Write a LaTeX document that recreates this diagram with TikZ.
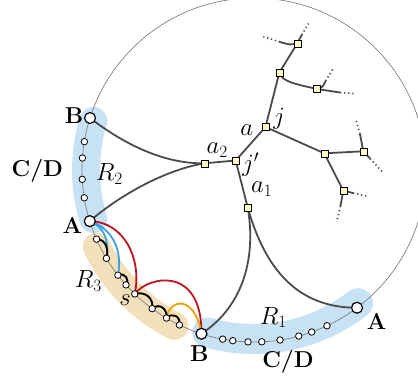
\documentclass[tikz,border=0pt]{standalone}
\usetikzlibrary{calc}
\pgfdeclarelayer{back}
\pgfdeclarelayer{bg}
\pgfsetlayers{back,bg,main}
\definecolor{bandblue}{RGB}{200,226,245}
\definecolor{bandtan}{RGB}{242,224,186}
\definecolor{treegray}{RGB}{75,75,75}
\definecolor{sqfill}{RGB}{255,248,195}
\definecolor{cred}{RGB}{190,20,30}
\definecolor{cblue}{RGB}{60,160,225}
\definecolor{corange}{RGB}{240,160,0}
\tikzset{
 bigv/.style={circle,draw=black,fill=white,line width=1.2pt,minimum size=11pt,inner sep=0pt},
 smallv/.style={circle,draw=black,fill=white,line width=0.8pt,minimum size=6.5pt,inner sep=0pt},
 sq/.style={rectangle,draw=black,fill=sqfill,line width=0.6pt,minimum size=7pt,inner sep=0pt},
 tree/.style={draw=treegray,line width=1.8pt},
 dotline/.style={draw=treegray,line width=1.6pt,dash pattern=on 1.3pt off 2.8pt},
 band/.style={line width=28pt,line cap=round},
 bump/.style={draw=black,line width=1.9pt},
 colcurve/.style={line width=1.8pt},
 lbl/.style={font=\fontsize{23}{27}\selectfont,inner sep=0pt},
}
\begin{document}
\begin{tikzpicture}[x=1pt,y=-1pt]
\useasboundingbox (0,0) rectangle (418,381);
\coordinate (O) at (254,170);
% vertices on the circle
\node[bigv] (Bl) at ([shift={(197.6:172)}]O) {};
\node[smallv] (l1) at ([shift={(189.5:172)}]O) {};
\node[smallv] (l2) at ([shift={(184:172)}]O) {};
\node[smallv] (l3) at ([shift={(176.9:172)}]O) {};
\node[smallv] (l4) at ([shift={(170.7:172)}]O) {};
\node[bigv] (Al) at ([shift={(162.7:172)}]O) {};
\node[smallv] (r1) at ([shift={(156.3:172)}]O) {};
\node[smallv] (r2) at ([shift={(149.1:172)}]O) {};
\node[smallv] (r3) at ([shift={(142.3:172)}]O) {};
\node[smallv] (r4) at ([shift={(138.1:172)}]O) {};
\node[smallv] (sv) at ([shift={(133.9:172)}]O) {};
\node[smallv] (r6) at ([shift={(126.3:172)}]O) {};
\node[smallv] (r7) at ([shift={(120.6:172)}]O) {};
\node[smallv] (r8) at ([shift={(115.7:172)}]O) {};
\node[bigv] (Bb) at ([shift={(107.8:172)}]O) {};
\node[smallv] (b1) at ([shift={(100.5:172)}]O) {};
\node[smallv] (b2) at ([shift={(97.1:172)}]O) {};
\node[smallv] (b3) at ([shift={(92:172)}]O) {};
\node[smallv] (b4) at ([shift={(87.4:172)}]O) {};
\node[smallv] (b5) at ([shift={(81.3:172)}]O) {};
\node[smallv] (b6) at ([shift={(74.9:172)}]O) {};
\node[smallv] (b7) at ([shift={(70.4:172)}]O) {};
\node[smallv] (b8) at ([shift={(64.9:172)}]O) {};
\node[bigv] (Ar) at ([shift={(53.2:172)}]O) {};
% tree squares
\node[sq] (t1) at (297.3,43.3) {};
\node[sq] (t2) at (279.3,72.7) {};
\node[sq] (t3) at (317,89) {};
\node[sq] (j) at (265.5,127) {};
\node[sq] (a2) at (204.3,163.3) {};
\node[sq] (jp) at (235.7,160.5) {};
\node[sq] (a1) at (247.7,207.5) {};
\node[sq] (t4) at (324.3,153.3) {};
\node[sq] (t5) at (363.3,151.3) {};
\node[sq] (t6) at (343.3,190.7) {};
% stub ends
\coordinate (t1L) at (280,42);
\coordinate (t1LL) at (263,36.5);
\coordinate (t1U) at (301.7,35);
\coordinate (t1UU) at (308.5,23.5);
\coordinate (t3U) at (325.5,81);
\coordinate (t3UU) at (333,69);
\coordinate (t3R) at (340,92.5);
\coordinate (t3RR) at (354,93.5);
\coordinate (t5U) at (360,134);
\coordinate (t5UU) at (356,120);
\coordinate (t5D) at (370,158.5);
\coordinate (t5DD) at (382,171.5);
\coordinate (t6D) at (340.5,206);
\coordinate (t6DD) at (336.5,222);
\coordinate (t6R) at (353,193);
\coordinate (t6RR) at (368,196.5);
% bands
\begin{pgfonlayer}{back}
\draw[band,bandblue] plot[domain=163:197,samples=30,smooth] ({254+168*cos(\x)},{170+168*sin(\x)});
\draw[band,bandtan] plot[domain=117:154,samples=30,smooth] ({254+175*cos(\x)},{170+175*sin(\x)});
\draw[band,bandblue,line width=30pt] plot[domain=52:106,samples=40,smooth] ({254+169*cos(\x)},{170+169*sin(\x)});
\end{pgfonlayer}
\begin{pgfonlayer}{bg}
\begin{scope}
\clip (0,0) rectangle (418,381);
\draw[gray,line width=0.7pt] (O) circle[radius=172];
\end{scope}
\draw[tree] (Bl.center) .. controls (125,145) and (165,164) .. (a2.center);
\draw[tree] (Al.center) .. controls (120,195) and (165,170) .. (a2.center);
\draw[tree] (a2.center) -- (jp.center);
\draw[tree] (jp.center) -- (j.center);
\draw[tree] (jp.center) -- (a1.center);
\draw[tree] (a1.center) .. controls (256,255) and (245,305) .. (Bb.center);
\draw[tree] (a1.center) .. controls (260,250) and (285,308) .. (Ar.center);
\draw[tree] (j.center) -- (t2.center);
\draw[tree] (t2.center) -- (t1.center);
\draw[tree] (t2.center) .. controls (281,82) and (300,85) .. (t3.center);
\draw[tree] (j.center) -- (t4.center);
\draw[tree] (t4.center) -- (t5.center);
\draw[tree] (t4.center) -- (t6.center);
% stubs
\draw[tree] (t1.center) .. controls (290,45) .. (t1L);
\draw[dotline] (t1L) .. controls (272,39.5) .. (t1LL);
\draw[tree] (t1.center) -- (t1U);
\draw[dotline] (t1U) -- (t1UU);
\draw[tree] (t3.center) .. controls (323,87) .. (t3U);
\draw[dotline] (t3U) -- (t3UU);
\draw[tree] (t3.center) -- (t3R);
\draw[dotline] (t3R) -- (t3RR);
\draw[tree] (t5.center) .. controls (362,142) .. (t5U);
\draw[dotline] (t5U) -- (t5UU);
\draw[tree] (t5.center) -- (t5D);
\draw[dotline] (t5D) -- (t5DD);
\draw[tree] (t6.center) -- (t6D);
\draw[dotline] (t6D) -- (t6DD);
\draw[tree] (t6.center) -- (t6R);
\draw[dotline] (t6R) -- (t6RR);
% coloured curves
\draw[colcurve,cblue] (Al.center) .. controls (103,226) and (110,240) .. (r2.center);
\draw[colcurve,cblue] (Al.center) .. controls (112,228) and (123,250) .. (r3.center);
\draw[colcurve,cred] (Al.center) .. controls (125,222) and (142,260) .. (sv.center);
\draw[colcurve,cred] (sv.center) .. controls (148,276) and (202,265) .. (Bb.center);
\draw[colcurve,corange] (r7.center) .. controls (170,298) and (195,295) .. (Bb.center);
% bumps
\draw[bump] (r1.center) .. controls (106,239) and (109,250) .. (r2.center);
\draw[bump] (r3.center) .. controls (125,272) and (130,280) .. (r4.center);
\draw[bump] (sv.center) .. controls (145,291) and (154,298) .. (r6.center);
\draw[bump] (r6.center) .. controls (160,302) and (168,310) .. (r7.center);
\draw[bump] (r7.center) .. controls (172,312) and (181,316) .. (r8.center);
\end{pgfonlayer}
% labels
\node[lbl] (lBl) at (74,116) {\textbf{B}};
\node[lbl] (lAl) at (72.3,225) {\textbf{A}};
\node[lbl] (lCDl) at (37.3,171) {\textbf{C/D}};
\node[lbl] (lR2) at (109.3,174) {$R_2$};
\node[lbl] (lR3) at (88.3,281) {$R_3$};
\node[lbl] (ls) at (125,300) {$s$};
\node[lbl] (lBb) at (199.3,353.3) {\textbf{B}};
\node[lbl] (lCDb) at (288,361.5) {\textbf{C/D}};
\node[lbl] (lR1) at (273.3,317.5) {$R_1$};
\node[lbl] (lAr) at (376.7,321.7) {\textbf{A}};
\node[lbl] (la2) at (217.3,150) {$a_2$};
\node[lbl] (la) at (246.7,130.5) {$a$};
\node[lbl] (lj) at (279,118.3) {$j$};
\node[lbl] (ljp) at (250.7,165) {$j'$};
\node[lbl] (la1) at (261.7,189) {$a_1$};
\end{tikzpicture}
\end{document}
